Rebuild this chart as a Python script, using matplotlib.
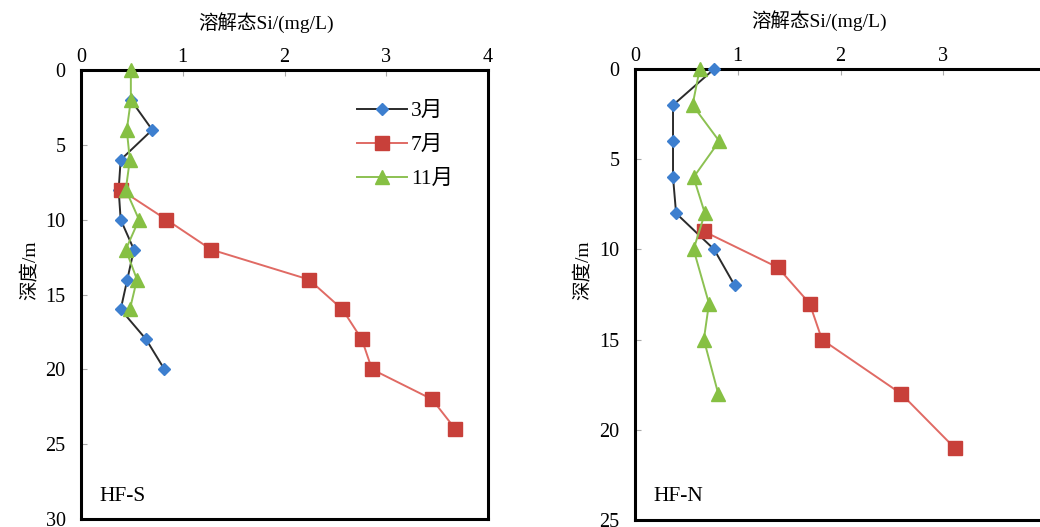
import matplotlib
matplotlib.use("Agg")
import matplotlib.pyplot as plt

plt.rcParams['font.family'] = ['Liberation Serif', 'Noto Sans CJK SC', 'DejaVu Sans']

# ---- data: HF-S ----
s_mar_depth = [2, 4, 6, 8, 10, 12, 14, 16, 18, 20]
s_mar_si = [0.49, 0.70, 0.39, 0.37, 0.39, 0.52, 0.455, 0.39, 0.64, 0.82]
s_jul_depth = [8, 10, 12, 14, 16, 18, 20, 22, 24]
s_jul_si = [0.39, 0.84, 1.28, 2.24, 2.57, 2.76, 2.86, 3.45, 3.68]
s_nov_depth = [0, 2, 4, 6, 8, 10, 12, 14, 16]
s_nov_si = [0.49, 0.49, 0.45, 0.48, 0.44, 0.57, 0.44, 0.55, 0.48]

# ---- data: HF-N ----
n_mar_depth = [0, 2, 4, 6, 8, 10, 12]
n_mar_si = [0.77, 0.37, 0.37, 0.37, 0.40, 0.77, 0.97]
n_jul_depth = [9, 11, 13, 15, 18, 21]
n_jul_si = [0.67, 1.39, 1.70, 1.82, 2.59, 3.11]
n_nov_depth = [0, 2, 4, 6, 8, 10, 13, 15, 18]
n_nov_si = [0.63, 0.56, 0.82, 0.57, 0.68, 0.57, 0.72, 0.67, 0.81]

labels = ['3月', '7月', '11月']
x_ticks = [0, 1, 2, 3, 4]
xlabel = '溶解态Si/(mg/L)'
ylabel = '深度/m'

W, H = 1040, 527
fig = plt.figure(figsize=(W / 100, H / 100), dpi=100)

def px_axes(l, t, r, b):
    return fig.add_axes([l / W, 1 - b / H, (r - l) / W, (b - t) / H])

ax1 = px_axes(81, 70, 488, 519)
ax2 = px_axes(635, 69, 1046, 520)

styles = [
    dict(color='#2b2b2b', marker='D', mfc='#3d7fcf', mec='#3d7fcf', ms=6.5, lw=1.4),
    dict(color='#e06a64', marker='s', mfc='#c8403a', mec='#c8403a', ms=10, lw=1.4),
    dict(color='#8cc152', marker='^', mfc='#86c043', mec='#86c043', ms=9.5, lw=1.4),
]

def draw(ax, series, ymax, yticks, tag, legend=False):
    for (x, y), st, lab in zip(series, styles, labels):
        ax.plot(x, y, label=lab, clip_on=False, zorder=3, **st)
    ax.set_xlim(0, 4)
    ax.set_ylim(ymax, 0)
    ax.set_xticks(x_ticks)
    ax.set_yticks(yticks)
    ax.xaxis.tick_top()
    ax.tick_params(axis='both', direction='in', length=4, width=0.8, color='#aaaaaa',
                   labelsize=14.5)
    ax.tick_params(axis='x', pad=2)
    ax.tick_params(axis='y', pad=11)
    for sp in ax.spines.values():
        sp.set_linewidth(2.2)
        sp.set_color('black')
    ax.text(0.045, 0.03, tag, transform=ax.transAxes, fontsize=15.5, ha='left', va='bottom')
    if legend:
        ax.legend(loc='upper left', bbox_to_anchor=((357 - 81) / 407, (519 - 101) / 449),
                  frameon=False, fontsize=15.5, handlelength=2.3, labelspacing=0.65,
                  handletextpad=0.2, borderaxespad=0.0, borderpad=0.0)

draw(ax1, [(s_mar_si, s_mar_depth), (s_jul_si, s_jul_depth), (s_nov_si, s_nov_depth)],
     30, [0, 5, 10, 15, 20, 25, 30], 'HF-S', legend=True)
draw(ax2, [(n_mar_si, n_mar_depth), (n_jul_si, n_jul_depth), (n_nov_si, n_nov_depth)],
     25, [0, 5, 10, 15, 20, 25], 'HF-N')

fig.text(266 / W, 1 - 23 / H, xlabel, ha='center', va='center', fontsize=14)
fig.text(819 / W, 1 - 21 / H, xlabel, ha='center', va='center', fontsize=14)
fig.text(30 / W, 1 - 270 / H, ylabel, ha='center', va='center', rotation=90, fontsize=14)
fig.text(583 / W, 1 - 270 / H, ylabel, ha='center', va='center', rotation=90, fontsize=14)

fig.savefig('out.png', dpi=100)
